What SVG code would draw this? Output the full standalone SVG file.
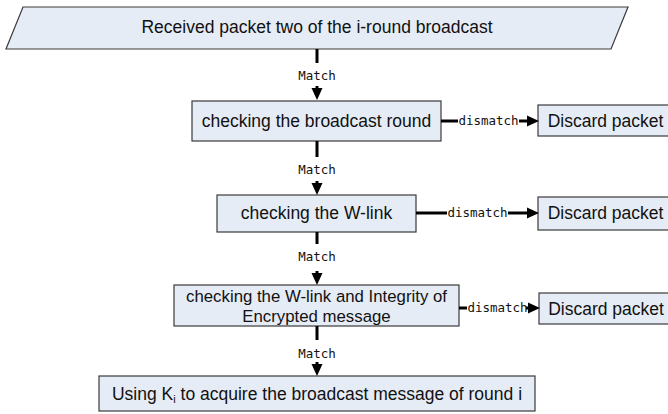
<svg xmlns="http://www.w3.org/2000/svg" width="668" height="414" viewBox="0 0 668 414">
  <style>
    .node { fill: #E6ECF6; stroke: #3a3a3a; stroke-width: 1.2; }
    .t { font-family: "Liberation Sans", Arial, sans-serif; font-size: 17.5px; fill: #111; text-anchor: middle; }
    .t2 { font-size: 16.8px; }
    .lbl { font-family: "DejaVu Sans Mono", "Liberation Mono", monospace; font-size: 12.5px; fill: #111; text-anchor: middle; }
    .ln { stroke: #000; stroke-width: 3; fill: none; }
    .hd { stroke: #000; stroke-width: 3; fill: none; marker-end: url(#ah); }
  </style>
  <defs>
    <marker id="ah" markerUnits="userSpaceOnUse" markerWidth="13" markerHeight="12" refX="0" refY="5.5" orient="auto" overflow="visible">
      <path d="M0,0 L12,5.5 L0,11 z" fill="#000"/>
    </marker>
  </defs>

  <g id="start">
    <polygon class="node" points="23,7 628,7 611,49 6,49"/>
    <text class="t" x="317" y="33">Received packet two of the i-round broadcast</text>
  </g>

  <g id="check-round">
    <rect class="node" x="192" y="101" width="249" height="40"/>
    <text class="t" x="316.5" y="127">checking the broadcast round</text>
  </g>

  <g id="discard-1">
    <rect class="node" x="538" y="105" width="134" height="31"/>
    <text class="t" x="605.5" y="127">Discard packet</text>
  </g>

  <g id="check-wlink">
    <rect class="node" x="217" y="195" width="199" height="37"/>
    <text class="t" x="316.5" y="219">checking the W-link</text>
  </g>

  <g id="discard-2">
    <rect class="node" x="538" y="197" width="134" height="33"/>
    <text class="t" x="605.5" y="219">Discard packet</text>
  </g>

  <g id="check-integrity">
    <rect class="node" x="174" y="285" width="285" height="41"/>
    <text class="t t2" x="316.5" y="302">checking the W-link and Integrity of</text>
    <text class="t t2" x="316.5" y="321.5">Encrypted message</text>
  </g>

  <g id="discard-3">
    <rect class="node" x="539" y="293" width="134" height="31"/>
    <text class="t" x="606" y="315">Discard packet</text>
  </g>

  <g id="acquire">
    <rect class="node" x="99" y="376" width="436" height="35"/>
    <text class="t" x="317" y="400">Using K<tspan font-size="11" dy="3">i</tspan><tspan dy="-3"> to acquire the broadcast message of round i</tspan></text>
  </g>

  <g id="connectors">
    <line class="ln" x1="317" y1="49" x2="317" y2="63"/>
    <text class="lbl" x="317" y="80">Match</text>
    <line class="hd" x1="317" y1="86" x2="317" y2="88"/>

    <line class="ln" x1="317" y1="141" x2="317" y2="157"/>
    <text class="lbl" x="317" y="174">Match</text>
    <line class="hd" x1="317" y1="181" x2="317" y2="183"/>

    <line class="ln" x1="317" y1="232" x2="317" y2="244"/>
    <text class="lbl" x="317" y="261">Match</text>
    <line class="hd" x1="317" y1="271" x2="317" y2="273"/>

    <line class="ln" x1="317" y1="326" x2="317" y2="340"/>
    <text class="lbl" x="317" y="358">Match</text>
    <line class="hd" x1="317" y1="362" x2="317" y2="364"/>

    <line class="ln" x1="441" y1="121" x2="458" y2="121"/>
    <text class="lbl" x="488.5" y="125">dismatch</text>
    <line class="hd" x1="519" y1="121" x2="527" y2="121"/>

    <line class="ln" x1="416" y1="213" x2="447" y2="213"/>
    <text class="lbl" x="477.5" y="217">dismatch</text>
    <line class="hd" x1="508" y1="213" x2="527" y2="213"/>

    <line class="ln" x1="459" y1="308" x2="467" y2="308"/>
    <text class="lbl" x="497.5" y="312">dismatch</text>
    <line class="hd" x1="526" y1="308" x2="528" y2="308"/>
  </g>
</svg>
